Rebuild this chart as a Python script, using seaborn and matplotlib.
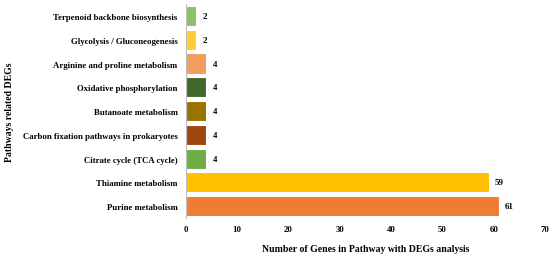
import matplotlib
matplotlib.use('Agg')
import matplotlib.pyplot as plt
import pandas as pd
import seaborn as sns

# datos (de arriba hacia abajo)
pathways = ['Terpenoid backbone biosynthesis', 'Glycolysis / Gluconeogenesis',
            'Arginine and proline metabolism', 'Oxidative phosphorylation',
            'Butanoate metabolism', 'Carbon fixation pathways in prokaryotes',
            'Citrate cycle (TCA cycle)', 'Thiamine metabolism', 'Purine metabolism']
genes = [2, 2, 4, 4, 4, 4, 4, 59, 61]
colores = ['#8CC168', '#FFCC33', '#F39C60', '#43682B', '#997300',
           '#9E480E', '#70AD47', '#FFC000', '#ED7D31']

df = pd.DataFrame({'Pathway': pathways, 'Genes': genes})

sns.set_style('white')
plt.rcParams['font.family'] = ['Liberation Serif', 'DejaVu Serif']
plt.rcParams['font.weight'] = 'bold'
plt.rcParams['text.color'] = 'black'
plt.rcParams['xtick.color'] = 'black'
plt.rcParams['ytick.color'] = 'black'
plt.rcParams['axes.labelcolor'] = 'black'

fig = plt.figure(figsize=(5.5, 2.55), dpi=100)
ax = fig.add_axes([0.338, 0.141, 0.653, 0.839])
sns.barplot(data=df, x='Genes', y='Pathway', hue='Pathway', palette=colores,
            saturation=1, legend=False, width=0.85, edgecolor='white',
            linewidth=0.8, ax=ax)

for i, v in enumerate(genes):
    ax.text(v + 1.2, i, str(v), va='center', ha='left', fontsize=6.5,
            fontweight='bold')

ax.set_xlim(0, 70)
ax.set_xticks(range(0, 71, 10))
ax.tick_params(axis='both', labelsize=6.3, length=0)
ax.tick_params(axis='y', pad=6)
ax.tick_params(axis='x', pad=5)
for lab in ax.get_xticklabels() + ax.get_yticklabels():
    lab.set_fontweight('bold')
ax.set_xlabel('Number of Genes in Pathway with DEGs analysis', fontsize=7,
              fontweight='bold', labelpad=8)
ax.set_ylabel('Pathways related DEGs', fontsize=7, fontweight='bold',
              labelpad=6)
for s in ['top', 'right', 'bottom']:
    ax.spines[s].set_visible(False)
ax.spines['left'].set_color('#BFBFBF')
ax.spines['left'].set_linewidth(0.8)
ax.set_ylim(8.5, -0.5)

plt.savefig('out.png', dpi=100)
